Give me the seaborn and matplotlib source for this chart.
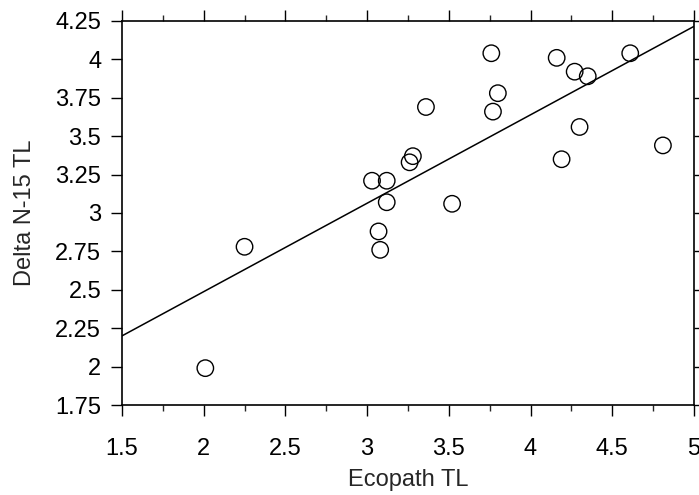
import matplotlib.pyplot as plt
import seaborn as sns
import pandas as pd
from matplotlib.ticker import MultipleLocator

# values
ecopath_tl = [2.01, 2.25, 3.03, 3.12, 3.12, 3.07, 3.08, 3.26, 3.28, 3.36, 3.52,
              3.76, 3.80, 3.77, 4.16, 4.27, 4.35, 4.30, 4.19, 4.61, 4.81]
delta_n15_tl = [1.99, 2.78, 3.21, 3.21, 3.07, 2.88, 2.76, 3.33, 3.37, 3.69, 3.06,
                4.04, 3.78, 3.66, 4.01, 3.92, 3.89, 3.56, 3.35, 4.04, 3.44]

# fitted line end points
line_x = [1.5, 5.0]
line_y = [2.20, 4.215]

df = pd.DataFrame({'Ecopath TL': ecopath_tl, 'Delta N-15 TL': delta_n15_tl})
fit = pd.DataFrame({'x': line_x, 'y': line_y})

sns.set_style('ticks')
plt.rcParams['font.family'] = ['Liberation Sans', 'DejaVu Sans']

fig = plt.figure(figsize=(6.99, 4.95), dpi=100)
ax = fig.add_axes([0.1745, 0.1818, 0.8183, 0.7758])

sns.lineplot(data=fit, x='x', y='y', color='black', linewidth=1.1, ax=ax)
sns.scatterplot(data=df, x='Ecopath TL', y='Delta N-15 TL', s=140,
                facecolor='none', edgecolor='black', linewidth=1.0, ax=ax)

ax.set_xlim(1.5, 5)
ax.set_ylim(1.75, 4.25)
ax.xaxis.set_major_locator(MultipleLocator(0.5))
ax.xaxis.set_minor_locator(MultipleLocator(0.25))
ax.yaxis.set_major_locator(MultipleLocator(0.25))
ax.set_xticklabels([f'{v:g}' for v in ax.get_xticks()])
ax.set_yticklabels([f'{v:g}' for v in ax.get_yticks()])

for s in ax.spines.values():
    s.set_visible(True)
    s.set_color('black')
    s.set_linewidth(1.2)

ax.tick_params(axis='both', which='major', direction='out', length=8, width=1,
               labelsize=17, colors='black')
ax.tick_params(axis='x', which='major', pad=16)
ax.tick_params(axis='y', which='major', pad=7)
ax.tick_params(axis='x', which='minor', direction='out', length=4, width=1)
ax.tick_params(axis='x', which='both', top=True)
ax.tick_params(axis='y', which='major', right=True)
ax.tick_params(axis='y', which='minor', left=False, right=False)

ax.set_xlabel('Ecopath TL', fontsize=17, labelpad=6)
ax.set_ylabel('Delta N-15 TL', fontsize=17, labelpad=14)

fig.savefig('out.png', dpi=100)
